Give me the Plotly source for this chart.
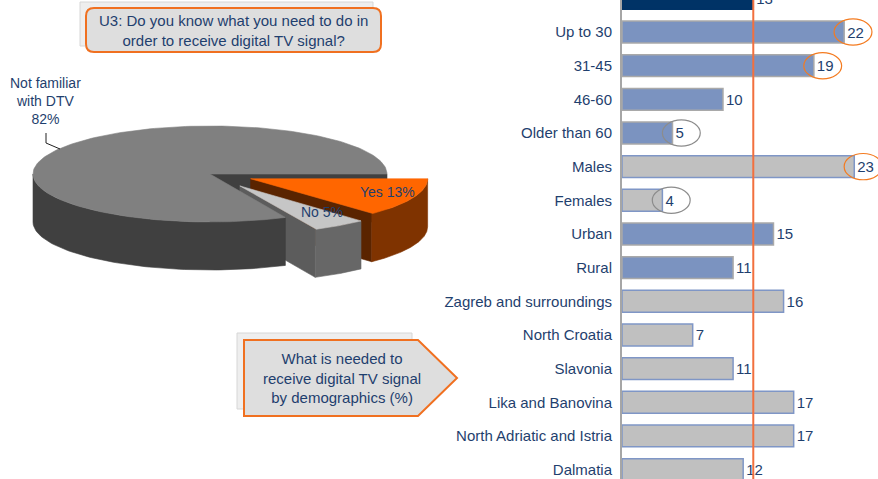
import numpy as np
import plotly.graph_objects as go

# ---- Bar chart data: share who know what is needed (%) ----
categories = ["Total", "Up to 30", "31-45", "46-60", "Older than 60",
              "Males", "Females", "Urban", "Rural",
              "Zagreb and surroundings", "North Croatia", "Slavonia",
              "Lika and Banovina", "North Adriatic and Istria", "Dalmatia"]
values = [13, 22, 19, 10, 5, 23, 4, 15, 11, 16, 7, 11, 17, 17, 12]
groups = ["total", "age", "age", "age", "age", "gender", "gender",
          "settlement", "settlement", "region", "region", "region",
          "region", "region", "region"]
circled_high = ["Up to 30", "31-45", "Males"]
circled_low = ["Older than 60", "Females"]

# ---- Pie data: U3 answers (%) ----
pie_labels = ["Not familiar with DTV", "No", "Yes"]
pie_shares = [82, 5, 13]

FONT = "Liberation Sans, Arial, sans-serif"
NAVY_TEXT = "#1f3f6e"
W, H = 878, 479

fill_by_group = {"total": "#003366", "age": "#7b93c0", "gender": "#c0c0c0",
                 "settlement": "#7b93c0", "region": "#c0c0c0"}
edge_by_group = {"total": "#003366", "age": "#a9a9a9", "gender": "#7f96c6",
                 "settlement": "#a9a9a9", "region": "#7f96c6"}

fig = go.Figure()

fig.add_trace(go.Bar(
    y=categories, x=values, orientation="h",
    marker=dict(color=[fill_by_group[g] for g in groups],
                line=dict(color=[edge_by_group[g] for g in groups], width=1.5)),
    width=0.65,
    text=[str(v) for v in values], textposition="outside",
    textfont=dict(family=FONT, size=15, color=NAVY_TEXT),
    constraintext="none", cliponaxis=True,
    hoverinfo="skip", showlegend=False,
))

# ---- 3D-style pie built from the shares ----
CX, CY, RX, RY, DEPTH = 210, 174, 177, 48, 48
PULL = [0.0, 0.30, 0.25]
TOP = ["#808080", "#c6c6c6", "#ff6600"]
WALL = ["#404040", "#676767", "#7f3300"]
FACE = ["#404040", "#5c5c5c", "#5a2400"]
DRAW_ORDER = [0, 2, 1]  # back to front


def rim(theta, ox, oy, dz=0.0):
    t = np.radians(theta)
    return ox + RX * np.cos(t), oy - RY * np.sin(t) + dz


def poly(xs, ys, color):
    fig.add_trace(go.Scatter(
        x=list(xs) + [xs[0]], y=list(ys) + [ys[0]], xaxis="x2", yaxis="y2",
        mode="lines", fill="toself", fillcolor=color,
        line=dict(color=color, width=0.6),
        hoverinfo="skip", showlegend=False))


total = sum(pie_shares)
slices = []
start = 0.0
for share in pie_shares:
    end = start + 360.0 * share / total
    slices.append((start, end))
    start = end


def origin(i):
    a, b = slices[i]
    mid = np.radians((a + b) / 2)
    return CX + PULL[i] * RX * np.cos(mid), CY - PULL[i] * RY * np.sin(mid)


# pass 1: cut faces that turn toward the viewer
for i in DRAW_ORDER:
    a, b = slices[i]
    ox, oy = origin(i)
    for ang, visible in ((a, np.cos(np.radians(a)) > 0), (b, np.cos(np.radians(b)) < 0)):
        if visible:
            px, py = rim(ang, ox, oy)
            poly([ox, px, px, ox], [oy, py, py + DEPTH, oy + DEPTH], FACE[i])

# pass 2: outer walls on the front half
for i in DRAW_ORDER:
    a, b = slices[i]
    ox, oy = origin(i)
    t0, t1 = max(a, 180.0), min(b, 360.0)
    if t1 > t0:
        th = np.linspace(t0, t1, 80)
        tx, ty = rim(th, ox, oy)
        bx, by = rim(th[::-1], ox, oy, DEPTH)
        poly(np.concatenate([tx, bx]), np.concatenate([ty, by]), WALL[i])

# pass 3: top surfaces
for i in DRAW_ORDER:
    a, b = slices[i]
    ox, oy = origin(i)
    th = np.linspace(a, b, 200)
    tx, ty = rim(th, ox, oy)
    poly(np.concatenate([[ox], tx]), np.concatenate([[oy], ty]), TOP[i])

# ---- boxes and callouts (pixel coordinates on the overlay axes) ----
shapes = []


def rounded_rect(x0, y0, x1, y1, r):
    return (f"M{x0 + r},{y0} L{x1 - r},{y0} Q{x1},{y0} {x1},{y0 + r} "
            f"L{x1},{y1 - r} Q{x1},{y1} {x1 - r},{y1} L{x0 + r},{y1} "
            f"Q{x0},{y1} {x0},{y1 - r} L{x0},{y0 + r} Q{x0},{y0} {x0 + r},{y0} Z")


# question box
shapes.append(dict(type="rect", xref="x2", yref="y2", x0=80, y0=2, x1=373, y1=46,
                   fillcolor="#eeeeee", line=dict(color="#d6d6d6", width=1), layer="below"))
shapes.append(dict(type="path", xref="x2", yref="y2", path=rounded_rect(86, 8, 381, 52, 8),
                   fillcolor="#dedede", line=dict(color="#f07020", width=2)))
# demographics arrow box
shapes.append(dict(type="rect", xref="x2", yref="y2", x0=237, y0=333, x1=412, y1=409,
                   fillcolor="#eeeeee", line=dict(color="#d6d6d6", width=1), layer="below"))
shapes.append(dict(type="path", xref="x2", yref="y2",
                   path="M244,340 L418,340 L457,378 L418,416 L244,416 Z",
                   fillcolor="#dedede", line=dict(color="#f07020", width=2)))
# leader line to the large slice
shapes.append(dict(type="path", xref="x2", yref="y2", path="M46,133 L46,143 L60,149",
                   line=dict(color="#222222", width=1)))

# average (Total) reference line
shapes.append(dict(type="line", xref="x", yref="paper", x0=values[0], x1=values[0],
                   y0=0, y1=1, line=dict(color="#f2703e", width=2)))

# rings around notable values
for cat, col in [(c, "#f47b20") for c in circled_high] + [(c, "#8c8c8c") for c in circled_low]:
    k = categories.index(cat)
    v = values[k]
    shapes.append(dict(type="circle", xref="x", yref="y", x0=v - 1.0, x1=v + 2.75,
                       y0=k - 0.39, y1=k + 0.39, line=dict(color=col, width=1.2)))

annotations = [
    dict(x=233, y=30, xref="x2", yref="y2", showarrow=False,
         text="U3: Do you know what you need to do in<br>order to receive digital TV signal?",
         font=dict(family=FONT, size=15, color=NAVY_TEXT), align="center"),
    dict(x=342, y=378, xref="x2", yref="y2", showarrow=False,
         text="What is needed to<br>receive digital TV signal<br>by demographics (%)",
         font=dict(family=FONT, size=15, color=NAVY_TEXT), align="center"),
    dict(x=45, y=101, xref="x2", yref="y2", showarrow=False,
         text="Not familiar<br>with DTV<br>" + f"{pie_shares[0]}%",
         font=dict(family=FONT, size=14, color=NAVY_TEXT), align="center"),
    dict(x=322, y=212, xref="x2", yref="y2", showarrow=False,
         text=f"{pie_labels[1]} {pie_shares[1]}%",
         font=dict(family=FONT, size=14, color=NAVY_TEXT)),
    dict(x=387, y=192, xref="x2", yref="y2", showarrow=False,
         text=f"{pie_labels[2]} {pie_shares[2]}%",
         font=dict(family=FONT, size=14, color=NAVY_TEXT)),
]

fig.update_layout(
    width=W, height=H, margin=dict(l=0, r=0, t=0, b=0),
    paper_bgcolor="white", plot_bgcolor="rgba(0,0,0,0)",
    xaxis=dict(domain=[622 / W, 1], range=[0, 25.35], visible=False, fixedrange=True),
    yaxis=dict(domain=[0, 1], type="category", range=[14.28, 0.049],
               showline=True, linecolor="#a6a6a6", linewidth=2,
               showgrid=False, zeroline=False, ticks="", ticklabelstandoff=5,
               tickfont=dict(family=FONT, size=15, color=NAVY_TEXT)),
    xaxis2=dict(domain=[0, 1], range=[0, W], visible=False, anchor="y2"),
    yaxis2=dict(domain=[0, 1], range=[H, 0], visible=False, anchor="x2"),
    shapes=shapes, annotations=annotations, bargap=0.35,
)

fig.write_html("out.html")
